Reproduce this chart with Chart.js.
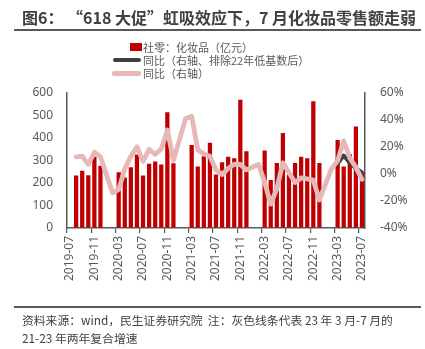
<!DOCTYPE html>
<html>
<head>
<meta charset="utf-8">
<script src="https://cdn.jsdelivr.net/npm/chart.js@4.4.1/dist/chart.umd.min.js"></script>
<style>
    body { margin: 0; width: 425px; height: 349px; background: #fff; position: relative; overflow: hidden;
           font-family: "Noto Sans CJK SC", "Noto Sans", sans-serif; }
    #title { position: absolute; left: 22px; top: 5px; font-size: 16px; font-weight: bold; color: #404040; white-space: nowrap; }
    .rule { position: absolute; left: 14px; width: 407px; height: 1.5px; background: #595959; }
    #box { position: absolute; left: 0; top: 0; width: 425px; height: 349px; }
    .leg { position: absolute; left: 143px; font-size: 11px; line-height: 12px; color: #595959; white-space: nowrap; }
    .key { position: absolute; }
    .foot { position: absolute; left: 22px; font-size: 11.8px; color: #404040; white-space: nowrap; }
</style>
</head>
<body>
<div id="box"><canvas id="c" width="425" height="349"></canvas></div>
<div id="title">图6：&nbsp;“618 大促”虹吸效应下，7 月化妆品零售额走弱</div>
<div class="rule" style="top:29px"></div>

<div class="key" style="left:130px;top:43px;width:12px;height:8px;background:#C00000"></div>
<div class="leg" style="top:41px">社零：化妆品（亿元）</div>
<div class="key" style="left:113px;top:58px;width:28px;height:4px;border-radius:2px;background:#404040"></div>
<div class="leg" style="top:54px">同比（右轴、排除22年低基数后）</div>
<div class="key" style="left:112px;top:71px;width:29px;height:4.5px;border-radius:2px;background:#E6B9B8"></div>
<div class="leg" style="top:67px">同比（右轴）</div>

<div class="rule" style="top:306px"></div>
<div class="foot" style="top:311px">资料来源：wind，民生证券研究院&nbsp; 注：灰色线条代表 23 年 3 月-7 月的</div>
<div class="foot" style="top:329px">21-23 年两年复合增速</div>

<script>
// 月份 2019-07 ~ 2023-07
var months = [
    '2019-07', '2019-08', '2019-09', '2019-10', '2019-11', '2019-12',
    '2020-01', '2020-02', '2020-03', '2020-04', '2020-05', '2020-06',
    '2020-07', '2020-08', '2020-09', '2020-10', '2020-11', '2020-12',
    '2021-01', '2021-02', '2021-03', '2021-04', '2021-05', '2021-06',
    '2021-07', '2021-08', '2021-09', '2021-10', '2021-11', '2021-12',
    '2022-01', '2022-02', '2022-03', '2022-04', '2022-05', '2022-06',
    '2022-07', '2022-08', '2022-09', '2022-10', '2022-11', '2022-12',
    '2023-01', '2023-02', '2023-03', '2023-04', '2023-05', '2023-06',
    '2023-07'
];

// 社零：化妆品（亿元）
var sales = [
    null, 232, 254, 234, 316, 276,
    null, null, 247, 224, 269, 325,
    232, 285, 294, 281, 512, 287,
    null, null, 368, 272, 318, 377,
    237, 291, 316, 309, 568, 340,
    null, null, 343, 213, 288, 421,
    236, 288, 315, 309, 561, 288,
    null, null, 390, 272, 328, 449,
    247
];

// 同比（右轴），%
var yoy = [
    null, 12.4, 13.1, 6.9, 15.9, 12.6,
    null, -14.1, -11.6, 3.5, 12.9, 20.0,
    9.2, 18.1, 14.2, 18.3, 32.3, 9.9,
    null, 40.7, 42.5, 17.8, 14.6, 13.0,
    2.8, -0.5, 3.9, 7.1, 6.9, 2.9,
    null, 7.0, -6.3, -22.3, -11.0, 8.1,
    0.7, -6.4, -3.1, -3.7, -4.6, -19.3,
    null, 3.8, 9.6, 24.3, 11.7, 4.8,
    -4.1
];

// 同比（右轴、排除22年低基数后），只有 23 年 3-7 月
var yoyExBase = [
    null, null, null, null, null, null,
    null, null, null, null, null, null,
    null, null, null, null, null, null,
    null, null, null, null, null, null,
    null, null, null, null, null, null,
    null, null, null, null, null, null,
    null, null, null, null, null, null,
    null, null, 7.5, 13.5, 8.0, 4.0,
    1.0
];

var leftTicks = { min: 0, max: 600, step: 100 };
var rightTicks = { min: -40, max: 60, step: 20 };

var axisGray = '#595959';
var tickFont = { family: 'Noto Sans', size: 12 };

new Chart(document.getElementById('c'), {
    type: 'bar',
    data: {
        labels: months,
        datasets: [
            {
                type: 'line',
                label: '同比（右轴）',
                data: yoy,
                yAxisID: 'y1',
                borderColor: '#E6B9B8',
                borderWidth: 4.8,
                pointRadius: 0,
                tension: 0,
                spanGaps: true,
                borderJoinStyle: 'round',
                borderCapStyle: 'round',
                order: 0
            },
            {
                type: 'line',
                label: '同比（右轴、排除22年低基数后）',
                data: yoyExBase,
                yAxisID: 'y1',
                borderColor: '#404040',
                borderWidth: 4,
                pointRadius: 0,
                tension: 0,
                borderJoinStyle: 'round',
                borderCapStyle: 'round',
                order: 1
            },
            {
                label: '社零：化妆品（亿元）',
                data: sales,
                yAxisID: 'y',
                backgroundColor: '#C00000',
                categoryPercentage: 1,
                barPercentage: 0.7,
                order: 2
            }
        ]
    },
    options: {
        responsive: false,
        animation: false,
        layout: { padding: { top: 92.5, left: 0, right: 0, bottom: 0 } },
        plugins: { legend: { display: false }, tooltip: { enabled: false } },
        scales: {
            x: {
                offset: true,
                afterFit: function (s) { s.height = 121; },
                grid: {
                    offset: true,
                    drawOnChartArea: false,
                    tickLength: 5,
                    lineWidth: 1.2,
                    color: function (ctx) { return ctx.index % 4 === 0 ? axisGray : 'rgba(0,0,0,0)'; }
                },
                border: { color: axisGray, width: 1.5 },
                ticks: {
                    autoSkip: false,
                    minRotation: 90,
                    maxRotation: 90,
                    padding: 3,
                    color: axisGray,
                    font: tickFont,
                    callback: function (v, i) { return i % 4 === 0 ? months[i] : ''; }
                }
            },
            y: {
                position: 'left',
                min: leftTicks.min,
                max: leftTicks.max,
                afterFit: function (s) { s.width = 67; },
                grid: { display: true, drawOnChartArea: false, drawTicks: false },
                border: { color: axisGray, width: 1.5 },
                ticks: { stepSize: leftTicks.step, padding: 14, color: axisGray, font: tickFont }
            },
            y1: {
                position: 'right',
                min: rightTicks.min,
                max: rightTicks.max,
                afterFit: function (s) { s.width = 60; },
                grid: { display: true, drawOnChartArea: false, drawTicks: false },
                border: { color: axisGray, width: 1.5 },
                ticks: {
                    stepSize: rightTicks.step, padding: 15, color: axisGray, font: tickFont,
                    callback: function (v) { return v + '%'; }
                }
            }
        }
    }
});
</script>
</body>
</html>
